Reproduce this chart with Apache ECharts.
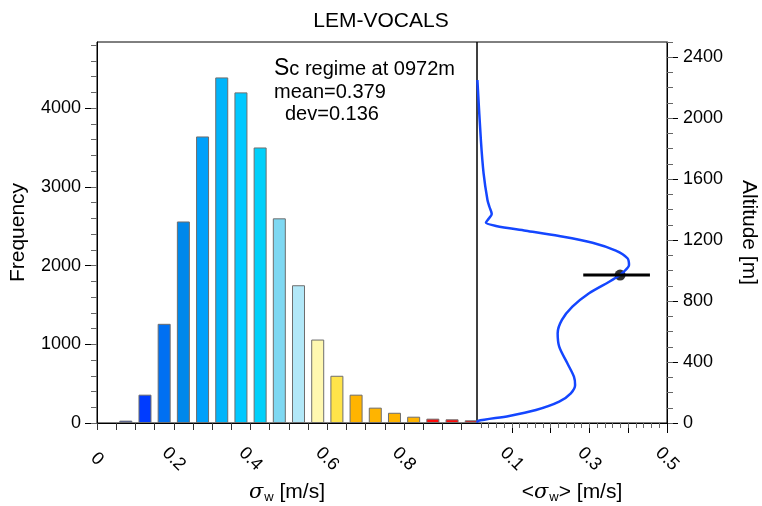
<!DOCTYPE html>
<html>
<head>
<meta charset="utf-8">
<script src="https://cdn.jsdelivr.net/npm/echarts@6/dist/echarts.min.js"></script>
<style>
html, body { margin: 0; padding: 0; background: #fff; }
#main { width: 762px; height: 506px; }
</style>
</head>
<body>
<div id="main"></div>
<script>
// histogram of sigma_w : bin centres and counts
var binCenters = [0.075, 0.125, 0.175, 0.225, 0.275, 0.325, 0.375, 0.425, 0.475, 0.525,
                  0.575, 0.625, 0.675, 0.725, 0.775, 0.825, 0.875, 0.925, 0.975];
var counts = [30, 360, 1260, 2560, 3640, 4390, 4200, 3500, 2600, 1750,
              1060, 600, 360, 195, 130, 80, 55, 47, 34];
var barColors = ['#1c3cb8', '#003cff', '#0070f2', '#0088ea', '#00a0fa', '#00b4fa', '#00c8ff', '#00d0fa', '#7ed8f2', '#b2e8f8',
                 '#fff8b0', '#ffe44a', '#ffb400', '#ffb400', '#ffb400', '#ffb400', '#ff0a0a', '#ff0a0a', '#d81c1c'];

// mean sigma_w profile
var profAlt   = [2, 13, 46, 85, 140, 195, 249, 304, 392, 501, 589, 676, 763, 851, 927, 971, 993,
                 1037, 1081, 1131, 1183, 1227, 1262, 1293, 1315, 1340, 1372, 1419, 1463, 1638, 1857, 2251];
var profSigma = [0.011, 0.012, 0.093, 0.162, 0.222, 0.252, 0.263, 0.26, 0.243, 0.222, 0.218, 0.229, 0.256, 0.299, 0.351, 0.379, 0.389,
                 0.402, 0.398, 0.368, 0.308, 0.222, 0.136, 0.059, 0.033, 0.040, 0.048, 0.042, 0.037, 0.027, 0.020, 0.011];

// selected level marker
var markAlt = 971;
var markMean = 0.379;
var markRange = [0.284, 0.456];

// tick labels
var freqLabels = [0, 1000, 2000, 3000, 4000];
var altLabels = [0, 400, 800, 1200, 1600, 2000, 2400];
var sigmaLabels = [0, 0.2, 0.4, 0.6, 0.8];
var meanLabels = [0.1, 0.3, 0.5];
var meanMajor = [0.1, 0.2, 0.3, 0.4, 0.5];

function steps(a, b, d) {
	var out = [];
	for (var i = 0; a + i * d <= b + 1e-9; i++) out.push(Math.round((a + i * d) * 1000) / 1000);
	return out;
}

var FONT = 'Liberation Sans, Arial, Helvetica, sans-serif';
var lbl = { color: '#000', fontSize: 18, fontFamily: FONT, formatter: function (v) { return String(v); } };
var nameRich = {
	g: { fontSize: 21, fontStyle: 'italic', fontFamily: 'DejaVu Serif', color: '#000' },
	s: { fontSize: 13, padding: [10, 0, 0, 1], fontFamily: FONT, color: '#000' }
};

var myChart = echarts.init(document.getElementById('main'));
var option = {
	animation: false,
	title: {
		text: 'LEM-VOCALS',
		left: 'center',
		top: 6,
		textStyle: { fontSize: 21, fontWeight: 'normal', color: '#000', fontFamily: FONT }
	},
	grid: [
		{ left: 97, top: 42, width: 380, height: 381, show: true, borderColor: '#000', borderWidth: 1, outerBoundsMode: 'none' },
		{ left: 477, top: 42, width: 190, height: 381, show: true, borderColor: '#000', borderWidth: 1, outerBoundsMode: 'none' }
	],
	xAxis: [
		{
			gridIndex: 0, type: 'value', min: 0, max: 0.99, position: 'bottom',
			name: '{g|σ}{s|w} [m/s]', nameLocation: 'middle', nameGap: 58,
			nameTextStyle: { fontSize: 21, color: '#000', fontFamily: FONT, rich: nameRich },
			axisLine: { lineStyle: { color: '#000', width: 1 } },
			axisTick: { inside: false, length: 7, customValues: steps(0, 0.95, 0.05), lineStyle: { color: '#333' } },
			axisLabel: Object.assign({ customValues: sigmaLabels, rotate: -45, align: 'center', verticalAlign: 'middle', margin: 36 }, lbl),
			splitLine: { show: false }
		},
		{
			gridIndex: 1, type: 'value', min: 0.01, max: 0.5, position: 'bottom',
			name: '<{g|σ}{s|w}> [m/s]', nameLocation: 'middle', nameGap: 58,
			nameTextStyle: { fontSize: 21, color: '#000', fontFamily: FONT, rich: nameRich },
			axisLine: { lineStyle: { color: '#000', width: 1 } },
			axisTick: { length: 10, customValues: meanMajor, lineStyle: { color: '#000' } },
			axisLabel: Object.assign({ customValues: meanLabels, rotate: -45, align: 'center', verticalAlign: 'middle', margin: 36 }, lbl),
			splitLine: { show: false }
		},
		{
			gridIndex: 1, type: 'value', min: 0.01, max: 0.5, position: 'bottom',
			axisLine: { show: false },
			axisTick: { length: 5, customValues: steps(0.02, 0.48, 0.02), lineStyle: { color: '#666' } },
			axisLabel: { show: false },
			splitLine: { show: false }
		}
	],
	yAxis: [
		{
			gridIndex: 0, type: 'value', min: 0, max: 4840, position: 'left',
			name: 'Frequency', nameLocation: 'middle', nameGap: 68, nameRotate: 90,
			nameTextStyle: { fontSize: 21, color: '#000', fontFamily: FONT },
			axisLine: { show: true, lineStyle: { color: '#000', width: 1 } },
			axisTick: { show: true, length: 12, customValues: freqLabels, lineStyle: { color: '#000' } },
			axisLabel: Object.assign({ customValues: freqLabels, margin: 16 }, lbl),
			splitLine: { show: false }
		},
		{
			gridIndex: 0, type: 'value', min: 0, max: 4840, position: 'left',
			axisLine: { show: false },
			axisTick: { show: true, length: 6, customValues: steps(0, 4800, 200), lineStyle: { color: '#666' } },
			axisLabel: { show: false },
			splitLine: { show: false }
		},
		{
			gridIndex: 1, type: 'value', min: 0, max: 2500, position: 'right',
			name: 'Altitude [m]', nameLocation: 'middle', nameGap: 71, nameRotate: -90,
			nameTextStyle: { fontSize: 21, color: '#000', fontFamily: FONT },
			axisLine: { show: true, lineStyle: { color: '#000', width: 1 } },
			axisTick: { show: true, length: 11, customValues: altLabels, lineStyle: { color: '#000' } },
			axisLabel: Object.assign({ customValues: altLabels, margin: 16 }, lbl),
			splitLine: { show: false }
		},
		{
			gridIndex: 1, type: 'value', min: 0, max: 2500, position: 'right',
			axisLine: { show: false },
			axisTick: { show: true, length: 6, customValues: steps(0, 2500, 100), lineStyle: { color: '#666' } },
			axisLabel: { show: false },
			splitLine: { show: false }
		}
	],
	graphic: [
		{ type: 'text', style: { x: 274, y: 69, verticalAlign: 'middle', text: '{s|S}c regime at 0972m',
			fontSize: 20, fontFamily: FONT, fill: '#000', rich: { s: { fontSize: 23, fontFamily: FONT } } } },
		{ type: 'text', style: { x: 274, y: 92, verticalAlign: 'middle', text: 'mean=0.379', fontSize: 20, fontFamily: FONT, fill: '#000' } },
		{ type: 'text', style: { x: 285, y: 114, verticalAlign: 'middle', text: 'dev=0.136', fontSize: 20, fontFamily: FONT, fill: '#000' } }
	],
	series: [
		{
			type: 'bar', xAxisIndex: 0, yAxisIndex: 0, barWidth: 13,
			data: binCenters.map(function (x, i) {
				return { value: [x, counts[i]], itemStyle: { color: barColors[i] } };
			}),
			itemStyle: { borderColor: '#6e6e6e', borderWidth: 1 }
		},
		{
			type: 'line', xAxisIndex: 1, yAxisIndex: 2, showSymbol: false, smooth: 0.3,
			data: profAlt.map(function (a, i) { return [profSigma[i], a]; }),
			lineStyle: { color: '#1446ff', width: 2.5 }
		},
		{
			type: 'line', xAxisIndex: 1, yAxisIndex: 2, showSymbol: false,
			data: [[markRange[0], markAlt], [markRange[1], markAlt]],
			lineStyle: { color: '#000', width: 3 }
		},
		{
			type: 'scatter', xAxisIndex: 1, yAxisIndex: 2, symbolSize: 11,
			data: [[markMean, markAlt]],
			itemStyle: { color: '#000' }
		}
	]
};
myChart.setOption(option);
</script>
</body>
</html>
